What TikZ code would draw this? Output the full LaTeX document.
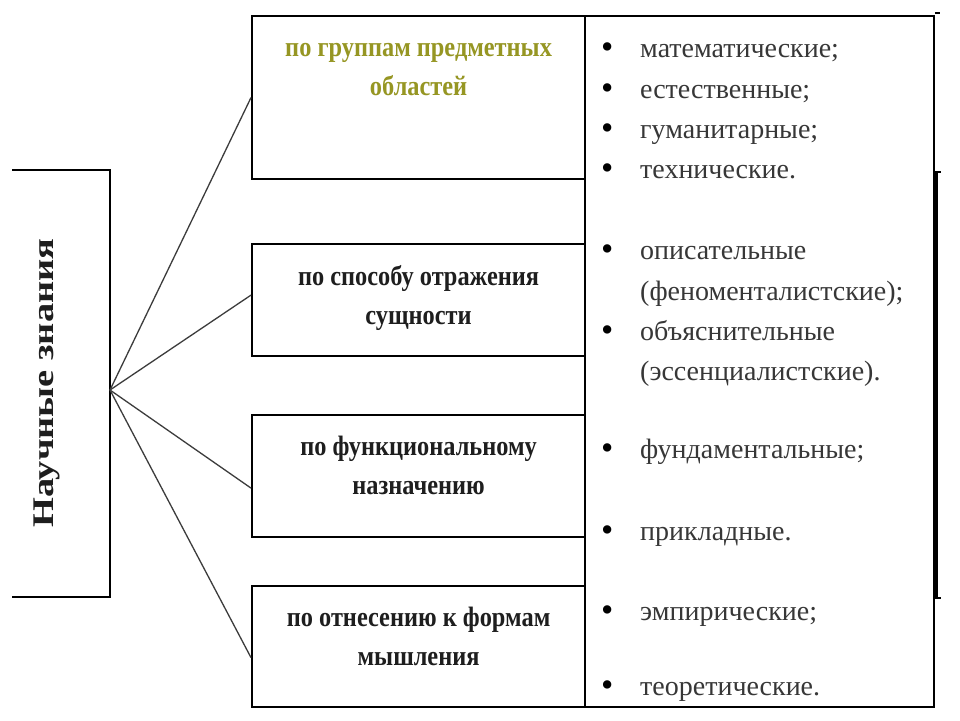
\documentclass[tikz,border=0pt]{standalone}
\usepackage{fontspec}
\setmainfont{Liberation Serif}
\newfontfamily\headfont[FakeStretch=0.87]{Liberation Serif}
\newfontfamily\rootfont[FakeStretch=1.28]{Liberation Serif}
\usepackage{xcolor}
\usepackage{tikz}
\usetikzlibrary{positioning, calc}
\definecolor{titleolive}{RGB}{150,150,35}
\definecolor{inkdark}{RGB}{30,30,30}
\definecolor{inkgrey}{RGB}{55,55,55}
\definecolor{linegrey}{RGB}{60,60,60}
\newcommand{\dotmark}{\raisebox{-1.5pt}{\textcolor{black}{\fontsize{35}{40}\selectfont\textbullet}}}

\begin{document}
\begin{tikzpicture}[x=1pt, y=-1pt,
    frame/.style={draw=black, line width=2.2pt},
    grp/.style={frame, anchor=north west, minimum width=333pt, inner sep=0pt},
    head/.style={font=\headfont\bfseries\fontsize{28}{39}\selectfont, align=center,
                 text=inkdark, inner sep=0pt},
    item/.style={anchor=base west, inner sep=0pt, font=\fontsize{28}{40}\selectfont,
                 text=inkgrey},
    link/.style={draw=linegrey, line width=1.3pt}
  ]
  \useasboundingbox[fill=white] (0,0) rectangle (960,720);

  % left bracket with the root label
  \node[rotate=90, inner sep=0pt, font=\rootfont\bfseries\fontsize{30}{36}\selectfont,
        text=inkdark] (root) at (47,383) {Научные знания};
  \draw[frame] (12,170) -| (110,597) -- (12,597);
  \coordinate (hub) at (110,390);

  % classification boxes
  \node[grp, minimum height=163pt] (g1) at (251,15) {};
  \node[grp, minimum height=112pt] (g2) at (251,243) {};
  \node[grp, minimum height=122pt] (g3) at (251,414) {};
  \node[grp, minimum height=121pt] (g4) at (251,585) {};
  \node[frame, anchor=north west, inner sep=0pt, minimum width=349pt,
        minimum height=691pt] (kinds) at (584,15) {};

  \node[head, text=titleolive, below=28pt of g1.north] (h1) {по группам предметных\\областей};
  \node[head, below=22pt of g2.north] (h2) {по способу отражения\\сущности};
  \node[head, below=22pt of g3.north] (h3) {по функциональному\\назначению};
  \node[head, below=22pt of g4.north] (h4) {по отнесению к формам\\мышления};

  \foreach \g/\dy in {1/0, 2/-5, 3/12, 4/11}
    \draw[link] (hub) -- ($(g\g.west)+(0,\dy)$);

  % list of kinds
  \foreach \yb/\txt [count=\i] in {57/математические;, 98/естественные;,
      138/гуманитарные;, 178/технические., 259/описательные, 340/объяснительные,
      458/фундаментальные;, 540/прикладные., 620/эмпирические;, 695/теоретические.}
    { \node[item] (it\i) at (601,\yb) {\makebox[39pt][l]{\dotmark}\txt}; }
  \node[item] (it5a) at (640,300) {(феноменталистские);};
  \node[item] (it6a) at (640,380) {(эссенциалистские).};

  % right edge marks
  \draw[line width=3pt] (936,172) -- (936,598);
  \draw[line width=2pt] (934,172) -- (941,172) (934,598) -- (941,598) (935,13) -- (940,13);
\end{tikzpicture}
\end{document}
